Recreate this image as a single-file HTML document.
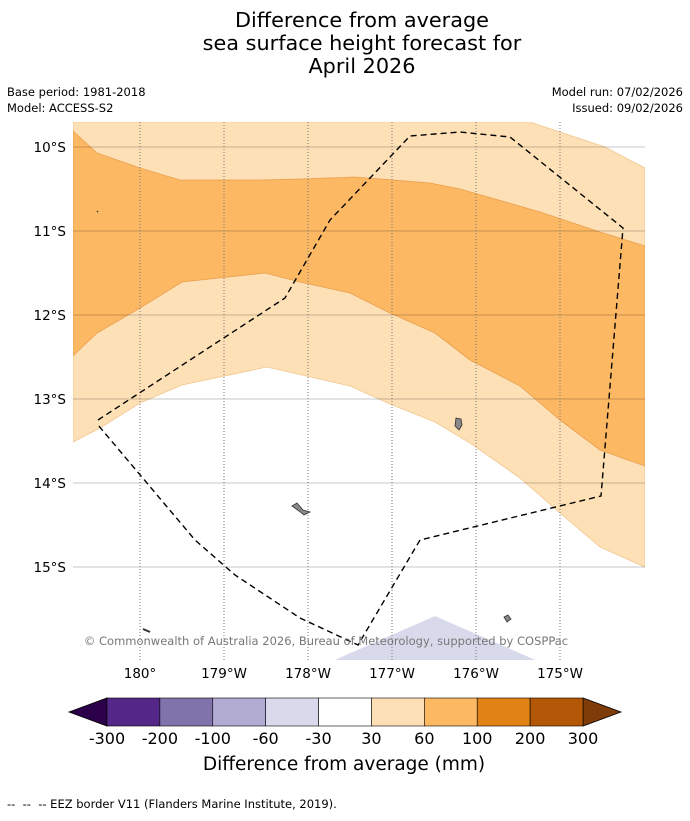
<!DOCTYPE html>
<html><head><meta charset="utf-8"><style>
body{margin:0;background:#fff;width:690px;height:816px;overflow:hidden;font-family:"Liberation Sans","DejaVu Sans",sans-serif}
svg text{font-family:"DejaVu Sans","Liberation Sans",sans-serif}
</style></head><body>
<svg width="690" height="816">
<text x="362" y="27" font-size="20.8" text-anchor="middle">Difference from average</text>
<text x="362" y="50" font-size="20.8" text-anchor="middle">sea surface height forecast for</text>
<text x="362" y="73" font-size="20.8" text-anchor="middle">April 2026</text>
<text x="7" y="96" font-size="11.5">Base period: 1981-2018</text>
<text x="7" y="112" font-size="11.5">Model: ACCESS-S2</text>
<text x="683" y="96" font-size="11.5" text-anchor="end">Model run: 07/02/2026</text>
<text x="683" y="112" font-size="11.5" text-anchor="end">Issued: 09/02/2026</text>
<defs><clipPath id="mc"><rect x="73" y="122" width="572" height="538"/></clipPath></defs>
<g id="map" clip-path="url(#mc)"></g>
<g id="axes"></g>
<g id="cbar"></g>
<text x="344" y="770" font-size="18.5" text-anchor="middle">Difference from average (mm)</text>
<text x="7" y="808" font-size="11.5">-- &#160;-- &#160;-- EEZ border V11 (Flanders Marine Institute, 2019).</text>
</svg>
<script>
const lonTicks=[180,179,178,177,176,175];
const lonLabels=["180°","179°W","178°W","177°W","176°W","175°W"];
const latTicks=[10,11,12,13,14,15];
const latLabels=["10°S","11°S","12°S","13°S","14°S","15°S"];
const cbarLevels=["-300","-200","-100","-60","-30","30","60","100","200","300"];
const cbarColors=["#542788","#8073ac","#b2abd2","#d8daeb","#ffffff","#fee0b6","#fdb863","#e08214","#b35806"];
const ns="http://www.w3.org/2000/svg";
function X(w){return 140+(180-w)*84;}
function Y(s){return 147+(s-10)*84;}
function mk(t,a,parent){const e=document.createElementNS(ns,t);for(const k in a)e.setAttribute(k,a[k]);parent.appendChild(e);return e;}
const map=document.getElementById('map');
const orangeTop=[[73,131],[97,153],[140,168],[180,180],[260,180],[300,179],[355,177],[430,183],[460,189],[540,212],[600,232],[645,246]];
const orangeBot=[[73,356],[97,333],[140,308],[182,282],[265,273],[300,282],[350,293],[390,313],[435,333],[470,360],[520,386],[560,420],[600,450],[645,466]];
const lightBot=[[73,442],[100,428],[140,403],[182,385],[267,367],[350,386],[390,404],[435,422],[470,443],[520,478],[560,513],[600,547],[645,567]];
const lightTop=[[73,122],[530,122],[605,147],[645,168]];
const P=a=>a.map(p=>p.join(',')).join(' ');
let e;
e=mk('polygon',{points:P(lightTop.concat(lightBot.slice().reverse())),fill:'#fee0b6',stroke:'#f0c890','stroke-width':0.8},map);

e=mk('polygon',{points:P(orangeTop.concat(orangeBot.slice().reverse())),fill:'#fdb863',stroke:'#e8a050','stroke-width':0.8},map);

e=mk('polygon',{points:'330,662 435,616 540,662',fill:'#d8daeb'},map);

latTicks.forEach((v,i)=>{const l=mk('line',{x1:73,x2:645,y1:Y(v),y2:Y(v),stroke:'#000','stroke-opacity':0.22,'stroke-width':1},map);
});
lonTicks.forEach((v,i)=>{const l=mk('line',{x1:X(v),x2:X(v),y1:122,y2:660,stroke:'#777','stroke-width':1,'stroke-dasharray':'1,2'},map);
});
[[0,0,'M456,418 L461,419 L462,425 L459,430 L455,426Z'],[0,0,'M292,506 L297,503 L303,510 L310,512 L304,515 L299,511Z'],[0,0,'M504,617 L508,615 L511,619 L507,622Z']].forEach(d=>{
const p=mk('path',{d:d[2],fill:'#888',stroke:'#333','stroke-width':0.8},map);});
e=mk('path',{d:'M143,629 L150,632',stroke:'#333','stroke-width':2},map);
e=mk('path',{d:'M97,211 L98,212',stroke:'#333','stroke-width':1.5},map);
e=mk('polyline',{points:'98,420 285,298 330,220 410,136 460,132 510,137 623,228 601,496 420,540 358,645 300,618 235,575 195,540 98,425',fill:'none',stroke:'#000','stroke-width':1.4,'stroke-dasharray':'6,4'},map);

e=mk('text',{x:326,y:645,'font-size':11.5,'text-anchor':'middle',fill:'#777'},map);e.textContent='© Commonwealth of Australia 2026, Bureau of Meteorology, supported by COSPPac';

const ax=document.getElementById('axes');
latTicks.forEach((v,i)=>{const t=mk('text',{x:66,y:Y(v)+5,'font-size':13.5,'text-anchor':'end'},ax);t.textContent=latLabels[i];
});
lonTicks.forEach((v,i)=>{const t=mk('text',{x:X(v),y:678,'font-size':13.5,'text-anchor':'middle'},ax);t.textContent=lonLabels[i];
});
const cb=document.getElementById('cbar');const x0=107,x1=583,y0=698,y1=726,w=(x1-x0)/cbarColors.length;
e=mk('polygon',{points:`69,712 ${x0},${y0} ${x0},${y1}`,fill:'#2d004b',stroke:'#000','stroke-width':0.8},cb);
e=mk('polygon',{points:`621,712 ${x1},${y0} ${x1},${y1}`,fill:'#7f3b08',stroke:'#000','stroke-width':0.8},cb);
cbarColors.forEach((c,i)=>{const r=mk('rect',{x:x0+i*w,y:y0,width:w,height:y1-y0,fill:c,stroke:'#000','stroke-width':0.6},cb);
});
cbarLevels.forEach((l,i)=>{const t=mk('text',{x:x0+i*w,y:744,'font-size':16,'text-anchor':'middle'},cb);t.textContent=l;
});
</script>
</body></html>
